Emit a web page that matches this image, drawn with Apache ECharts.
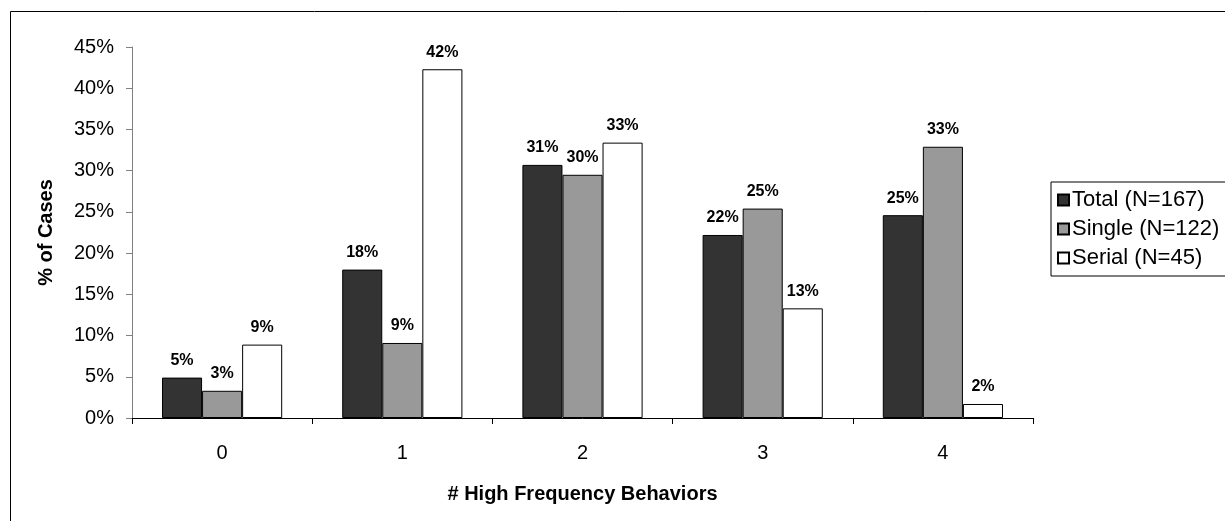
<!DOCTYPE html>
<html>
<head>
<meta charset="utf-8">
<script src="https://cdn.jsdelivr.net/npm/echarts@6/dist/echarts.min.js"></script>
<style>
html,body{margin:0;padding:0;background:#fff;}
#chart{width:1225px;height:521px;}
</style>
</head>
<body>
<div id="chart"></div>
<script>
const categories = ['0', '1', '2', '3', '4'];
const seriesNames = ['Total (N=167)', 'Single (N=122)', 'Serial (N=45)'];
const totalValues = [4.9, 18.0, 30.7, 22.2, 24.6];
const singleValues = [3.3, 9.1, 29.5, 25.4, 32.9];
const serialValues = [8.9, 42.3, 33.4, 13.3, 1.7];
const yTicks = { min: 0, max: 45, interval: 5 };

const FONT = '"Liberation Sans", Arial, sans-serif';
const chart = echarts.init(document.getElementById('chart'));

function mkSeries(name, data, color) {
  return {
    name: name,
    type: 'bar',
    data: data,
    barGap: '0%',
    barCategoryGap: '33.3%',
    itemStyle: { color: color, borderColor: '#000', borderWidth: 1 },
    label: {
      show: true,
      position: 'top',
      distance: 9,
      formatter: p => Math.round(p.value) + '%',
      fontFamily: FONT,
      fontWeight: 'bold',
      fontSize: 16,
      color: '#000'
    },
    emphasis: { disabled: true },
    animation: false
  };
}

chart.setOption({
  animation: false,
  backgroundColor: '#fff',
  textStyle: { fontFamily: FONT },
  graphic: [{
    type: 'rect',
    shape: { x: 10.5, y: 11.5, width: 1300, height: 600 },
    style: { fill: 'none', stroke: '#000', lineWidth: 1 },
    silent: true, z: -10
  }],
  grid: { left: 132, right: 192, top: 47, bottom: 103 },
  legend: {
    orient: 'vertical',
    left: 1051,
    top: 182,
    padding: [6, 10, 6, 6],
    itemWidth: 11,
    itemHeight: 11,
    itemGap: 5,
    icon: 'rect',
    backgroundColor: '#fff',
    borderColor: '#000',
    borderWidth: 1,
    borderRadius: 0,
    textStyle: { fontFamily: FONT, fontSize: 22, color: '#000', lineHeight: 24, padding: [0, 0, 0, -2] },
    data: seriesNames
  },
  xAxis: {
    type: 'category',
    data: categories,
    name: '# High Frequency Behaviors',
    nameLocation: 'middle',
    nameGap: 66,
    nameTextStyle: { fontFamily: FONT, fontWeight: 'bold', fontSize: 20, color: '#000' },
    axisLine: { lineStyle: { color: '#000', width: 1 } },
    axisTick: { show: true, length: 6, inside: false, lineStyle: { color: '#000' } },
    axisLabel: { fontFamily: FONT, fontSize: 20, color: '#000', margin: 25 },
    splitLine: { show: false }
  },
  yAxis: {
    type: 'value',
    min: yTicks.min,
    max: yTicks.max,
    interval: yTicks.interval,
    name: '% of Cases',
    nameLocation: 'middle',
    nameGap: 76,
    nameTextStyle: { fontFamily: FONT, fontWeight: 'bold', fontSize: 20, color: '#000' },
    axisLine: { show: true, lineStyle: { color: '#808080', width: 1 } },
    axisTick: { show: true, length: 6, lineStyle: { color: '#808080' } },
    axisLabel: { fontFamily: FONT, fontSize: 20, color: '#000', margin: 18, formatter: '{value}%' },
    splitLine: { show: false }
  },
  series: [
    mkSeries(seriesNames[0], totalValues, '#333333'),
    mkSeries(seriesNames[1], singleValues, '#999999'),
    mkSeries(seriesNames[2], serialValues, '#ffffff')
  ]
});
</script>
</body>
</html>
